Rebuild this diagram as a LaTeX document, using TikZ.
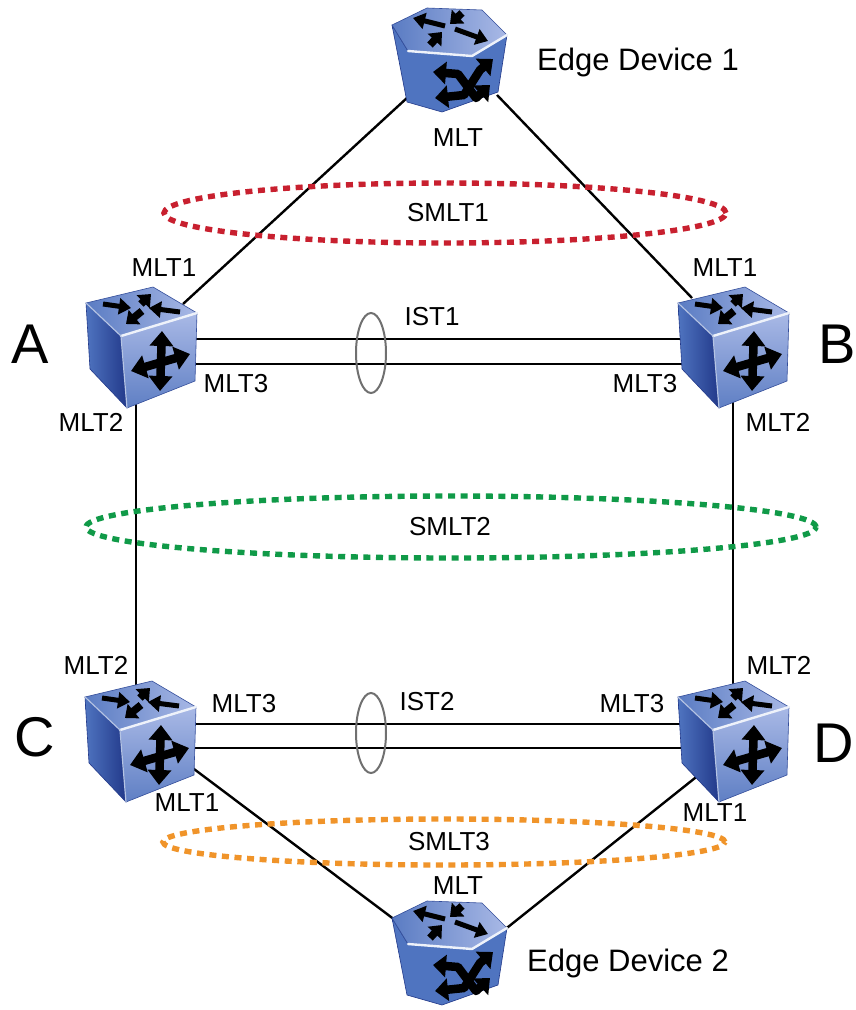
\documentclass[tikz,border=0pt]{standalone}
\usepackage{fontspec}
\setmainfont{Liberation Sans}
\usetikzlibrary{arrows.meta,shapes.geometric}
\definecolor{ddark}{HTML}{22398A}
\definecolor{dside}{HTML}{4F74C0}
\definecolor{dmid}{HTML}{5F7FC4}
\definecolor{dlight}{HTML}{A9B9E6}
\definecolor{dhi}{HTML}{EEF2FA}
\definecolor{ddeep}{HTML}{1D3280}
\definecolor{smred}{HTML}{C8202F}
\definecolor{smgreen}{HTML}{109A48}
\definecolor{smorange}{HTML}{F0942A}
\definecolor{istgray}{HTML}{707070}
\tikzset{
  x=1pt,y=-1pt,
  lbl/.style={font=\fontsize{26}{30}\selectfont,inner sep=0pt,text=black},
  edgelbl/.style={font=\fontsize{31}{35}\selectfont,inner sep=0pt,text=black},
  biglbl/.style={font=\fontsize{56}{62}\selectfont,inner sep=0pt,text=black},
  link/.style={line width=2.4pt,black},
  smlt/.style={line width=5.4pt,dash pattern=on 7pt off 5.6pt},
  ist/.style={line width=2pt,istgray},
  devthin/.style={line width=5pt,black,-{Triangle[length=12pt,width=16pt]}},
  devarrow/.style={line width=7.5pt,black,-{Triangle[length=11pt,width=18pt]}},
  devcross/.style={line width=8.5pt,black,{Triangle[length=15pt,width=23pt]}-{Triangle[length=15pt,width=23pt]}},
  devswap/.style={line width=8.5pt,black,line join=round,{Triangle[length=13pt,width=22pt]}-{Triangle[length=13pt,width=22pt]}},
  devbox/.style={inner sep=0pt,minimum width=112pt,minimum height=122pt},
  edgebox/.style={inner sep=0pt,minimum width=118pt,minimum height=108pt},
  hiline/.style={line width=2.4pt,dhi,line join=round,line cap=round}
}
\newcommand{\cubeshape}[1]{%
\begin{scope}[shift={(#1)}]
  \shade[left color=dside,right color=ddark,draw=ddark,line width=.6pt,line join=round]
    (1,17) -- (36,50) -- (42,122) -- (5,83) -- cycle;
  \shade[shading angle=-60,top color=dlight,bottom color=dmid,draw=ddark!70!dmid,line width=.6pt,line join=round]
    (36,50) -- (112,27) -- (110,95) -- (42,122) -- cycle;
  \shade[left color=dmid!70!dside,right color=dlight,draw=ddark!70!dmid,line width=.6pt,line join=round]
    (1,17) -- (68,1) -- (112,27) -- (36,50) -- cycle;
  \draw[hiline] (36,50) -- (112,27);
  \draw[line width=1.2pt,dhi!60!dmid] (36,50) -- (1,17);
  \draw[line width=1.2pt,dhi!60!dmid] (36,50) -- (42,122);
  \draw[devthin] (18,18) -- (46,22);
  \draw[devarrow] (56,18) -- (66,8);
  \draw[devarrow] (57,25) -- (41,38);
  \draw[devthin] (95,26) -- (64,22);
  \draw[devcross] (77,45) -- (75,105);
  \draw[devcross] (46,85) -- (105,68);
\end{scope}}
\newcommand{\edgeshape}[1]{%
\begin{scope}[shift={(#1)}]
  \shade[left color=dside,middle color=ddark,right color=dside,draw=ddark,line width=.6pt,line join=round]
    (0,17) -- (16,43) -- (80,48) -- (115,27) -- (106,84) -- (50,104) -- (15,94) -- cycle;
  \shade[left color=dmid!70!dside,right color=dlight,draw=ddark!70!dmid,line width=.6pt,line join=round]
    (0,17) -- (35,0) -- (90,2) -- (115,27) -- (80,48) -- (16,43) -- cycle;
  \draw[hiline] (16,43) -- (80,48) -- (115,27);
  \draw[devthin] (53,18) -- (21,10);
  \draw[devarrow] (70,5) -- (58,16);
  \draw[devarrow] (38,37) -- (50,24);
  \draw[devthin] (63,21) -- (96,33);
  \draw[devswap] (41,64) -- (66,66) -- (84,90) -- (98,77);
  \draw[devswap] (43,90) -- (72,87) -- (88,62) -- (101,51);
\end{scope}}
\begin{document}
\begin{tikzpicture}
\useasboundingbox (0,0) rectangle (856,1010);
\fill[white] (0,0) rectangle (856,1010);
% ports
\coordinate (e1l) at (408,97);
\coordinate (e1r) at (497,95);
\coordinate (aup) at (183,304);
\coordinate (bup) at (692,298);
\coordinate (a1) at (190,339);
\coordinate (b1) at (685,339);
\coordinate (a2) at (190,364);
\coordinate (b2) at (685,364);
\coordinate (adn) at (136,400);
\coordinate (cup) at (136,690);
\coordinate (bdn) at (733,400);
\coordinate (dup) at (733,690);
\coordinate (c1) at (190,724);
\coordinate (d1) at (685,724);
\coordinate (c2) at (190,748);
\coordinate (d2) at (685,748);
\coordinate (cdn) at (190,766);
\coordinate (e2l) at (395,920);
\coordinate (ddn) at (700,774);
\coordinate (e2r) at (503,931);
% connectors
\draw[link] (e1l) -- (aup);
\draw[link] (e1r) -- (bup);
\draw[link] (a1) -- (b1);
\draw[link] (a2) -- (b2);
\draw[link] (adn) -- (cup);
\draw[link] (bdn) -- (dup);
\draw[link] (c1) -- (d1);
\draw[link] (c2) -- (d2);
\draw[link] (cdn) -- (e2l);
\draw[link] (ddn) -- (e2r);
% groups
\node[draw=smred,smlt,shape=ellipse,inner sep=0pt,minimum width=562pt,minimum height=60pt] (s1) at (445,213) {};
\node[draw=smgreen,smlt,shape=ellipse,inner sep=0pt,minimum width=730pt,minimum height=62pt] (s2) at (451,527) {};
\node[draw=smorange,smlt,shape=ellipse,inner sep=0pt,minimum width=562pt,minimum height=46pt] (s3) at (444,842) {};
\node[draw,ist,shape=ellipse,inner sep=0pt,minimum width=30pt,minimum height=80pt] (i1) at (371,353) {};
\node[draw,ist,shape=ellipse,inner sep=0pt,minimum width=30pt,minimum height=80pt] (i2) at (371,733) {};
% devices
\node[devbox] (A) at (141,347) {}; \cubeshape{85,286}
\node[devbox] (B) at (733,347) {}; \cubeshape{677,286}
\node[devbox] (C) at (140,741) {}; \cubeshape{84,680}
\node[devbox] (D) at (733,741) {}; \cubeshape{677,680}
\node[edgebox] (E1) at (451,61) {}; \edgeshape{392,8}
\node[edgebox] (E2) at (451,954) {}; \edgeshape{392,901}
% labels
\node[edgelbl,anchor=west] (t1) at (537,62) {Edge Device 1};
\node[edgelbl,anchor=west] (t2) at (527,963) {Edge Device 2};
\node[lbl] (t3) at (458,138) {MLT};
\node[lbl] (t4) at (458,886) {MLT};
\node[lbl] (t5) at (448,213) {SMLT1};
\node[lbl] (t6) at (450,527) {SMLT2};
\node[lbl] (t7) at (449,842) {SMLT3};
\node[lbl] (t8) at (164,268) {MLT1};
\node[lbl] (t9) at (725,268) {MLT1};
\node[lbl] (t10) at (432,317) {IST1};
\node[lbl] (t11) at (427,702) {IST2};
\node[lbl] (t12) at (236,384) {MLT3};
\node[lbl] (t13) at (645,384) {MLT3};
\node[lbl] (t14) at (91,422) {MLT2};
\node[lbl] (t15) at (778,422) {MLT2};
\node[lbl] (t16) at (96,665) {MLT2};
\node[lbl] (t17) at (779,665) {MLT2};
\node[lbl] (t18) at (244,704) {MLT3};
\node[lbl] (t19) at (632,704) {MLT3};
\node[lbl] (t20) at (187,803) {MLT1};
\node[lbl] (t21) at (715,813) {MLT1};
\node[biglbl] (la) at (30,344) {A};
\node[biglbl] (lb) at (837,344) {B};
\node[biglbl] (lc) at (35,737) {C};
\node[biglbl,anchor=east] (ld) at (854,743) {D};
\end{tikzpicture}
\end{document}
